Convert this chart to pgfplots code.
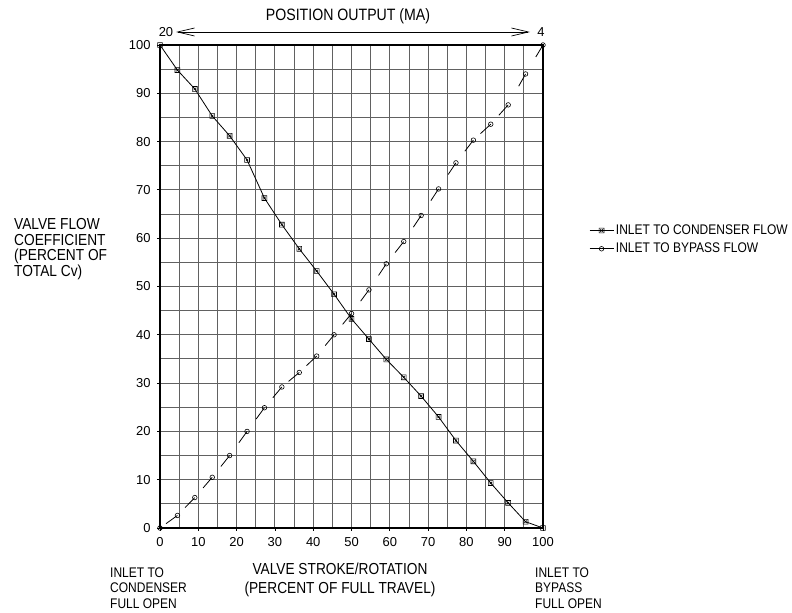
\documentclass[border=0pt]{standalone}
\usepackage{fontspec}
\setmainfont{Liberation Sans}[FakeStretch=0.86]
\newfontfamily\tickfont{Liberation Sans}
\usepackage{pgfplots}
\pgfplotsset{compat=1.18}
\usetikzlibrary{arrows.meta}
\pgfdeclareplotmark{sqx}{%
  \pgfpathrectangle{\pgfqpoint{-\pgfplotmarksize}{-\pgfplotmarksize}}{\pgfqpoint{2\pgfplotmarksize}{2\pgfplotmarksize}}%
  \pgfpathmoveto{\pgfqpoint{-0.5\pgfplotmarksize}{-0.5\pgfplotmarksize}}%
  \pgfpathlineto{\pgfqpoint{0.5\pgfplotmarksize}{0.5\pgfplotmarksize}}%
  \pgfpathmoveto{\pgfqpoint{-0.5\pgfplotmarksize}{0.5\pgfplotmarksize}}%
  \pgfpathlineto{\pgfqpoint{0.5\pgfplotmarksize}{-0.5\pgfplotmarksize}}%
  \pgfusepathqstroke
}
\pgfplotstableread{
x y
0 100
4.55 94.8
9.09 90.9
13.64 85.3
18.18 81.2
22.73 76.2
27.27 68.3
31.82 62.8
36.36 57.8
40.91 53.2
45.45 48.4
50 43.3
54.55 39.1
59.09 34.9
63.64 31.2
68.18 27.3
72.73 23.0
77.27 18.1
81.82 13.8
86.36 9.3
90.91 5.2
95.45 1.3
100 0
}\condenser
\pgfplotstableread{
x y
0 0
4.55 2.6
9.09 6.3
13.64 10.5
18.18 15.0
22.73 20.0
27.27 24.9
31.82 29.2
36.36 32.2
40.91 35.6
45.45 40.0
50 44.4
54.55 49.3
59.09 54.7
63.64 59.3
68.18 64.7
72.73 70.2
77.27 75.6
81.82 80.3
86.36 83.6
90.91 87.6
95.45 94.0
100 100
}\bypass
% same bypass points, as pairs (upper point first) so each segment starts at its marker
\pgfplotstableread{
x y
4.55 2.6
0 0
nan nan
9.09 6.3
4.55 2.6
nan nan
13.64 10.5
9.09 6.3
nan nan
18.18 15.0
13.64 10.5
nan nan
22.73 20.0
18.18 15.0
nan nan
27.27 24.9
22.73 20.0
nan nan
31.82 29.2
27.27 24.9
nan nan
36.36 32.2
31.82 29.2
nan nan
40.91 35.6
36.36 32.2
nan nan
45.45 40.0
40.91 35.6
nan nan
50 44.4
45.45 40.0
nan nan
54.55 49.3
50 44.4
nan nan
59.09 54.7
54.55 49.3
nan nan
63.64 59.3
59.09 54.7
nan nan
68.18 64.7
63.64 59.3
nan nan
72.73 70.2
68.18 64.7
nan nan
77.27 75.6
72.73 70.2
nan nan
81.82 80.3
77.27 75.6
nan nan
86.36 83.6
81.82 80.3
nan nan
90.91 87.6
86.36 83.6
nan nan
95.45 94.0
90.91 87.6
nan nan
100 100
95.45 94.0
}\bypasssegs
\begin{document}
\begin{tikzpicture}
\useasboundingbox (0bp,0bp) rectangle (792bp,613bp);
\begin{axis}[
  at={(160bp,85bp)}, anchor=south west,
  scale only axis, width=383bp, height=483bp,
  xmin=0, xmax=100, ymin=0, ymax=100,
  xtick={0,10,...,100}, ytick={0,10,...,100},
  minor xtick={5,15,...,95}, minor ytick={5,15,...,95},
  grid=both,
  grid style={black!62, line width=0.9bp},
  minor grid style={black!62, line width=0.9bp},
  axis line style={line width=1.4bp},
  tick align=outside, tick pos=left,
  major tick length=3bp, minor tick length=0pt,
  tick style={black, line width=0.8bp},
  /pgf/number format/assume math mode=true,
  ticklabel style={font=\tickfont\fontsize{13}{13}\selectfont},
  xticklabel style={yshift=-3bp},
  yticklabel style={xshift=-3bp},
  legend style={at={(axis description cs:1.120,0.632)}, anchor=north west,
    draw=none, fill=none, inner sep=0pt, row sep=3bp,
    font=\fontsize{14}{14}\selectfont},
  legend cell align=left,
  legend image code/.code={
    \draw[#1, solid] (0bp,0bp) -- (24bp,0bp);
    \draw[#1, solid, only marks] plot coordinates {(12bp,0bp)};
  },
  clip=false,
]
\addplot[black, line width=0.8bp, mark=sqx, mark size=2.4bp,
  mark options={solid, line width=0.6bp}] table[x=x,y=y] {\condenser};
\addlegendentry{INLET TO CONDENSER FLOW}
\addplot[black, line width=0.8bp, dash pattern=on 14bp off 300bp,
  unbounded coords=jump, forget plot] table[x=x,y=y] {\bypasssegs};
\addplot[black, only marks, mark=o, mark size=2.3bp,
  mark options={solid, line width=0.6bp},
  legend image code/.code={
    \draw[black, line width=0.8bp] (0bp,0bp) -- (24bp,0bp);
    \draw[black, line width=0.6bp] (12bp,0bp) circle (2.3bp);
  }] table[x=x,y=y] {\bypass};
\addlegendentry{INLET TO BYPASS FLOW}
\end{axis}
\node[font=\fontsize{16.5}{16.5}\selectfont] at (348bp,597bp) {POSITION OUTPUT (MA)};
\draw[line width=0.7bp, {Straight Barb[length=17bp,width=8bp]}-{Straight Barb[length=17bp,width=8bp]}] (176bp,581bp) -- (530bp,581bp);
\node[font=\tickfont\fontsize{13}{13}\selectfont] at (166bp,581bp) {20};
\node[font=\tickfont\fontsize{13}{13}\selectfont] at (541bp,581bp) {4};
\node[anchor=west, align=left, inner sep=0pt, font=\fontsize{16}{15.7}\selectfont] at (14bp,364bp) {VALVE FLOW\\COEFFICIENT\\(PERCENT OF\\TOTAL Cv)};
\node[align=center, inner sep=0pt, font=\fontsize{16}{19}\selectfont] at (340bp,33bp) {VALVE STROKE/ROTATION\\(PERCENT OF FULL TRAVEL)};
\node[anchor=west, align=left, inner sep=0pt, font=\fontsize{14}{15.5}\selectfont] at (110bp,25bp) {INLET TO\\CONDENSER\\FULL OPEN};
\node[anchor=west, align=left, inner sep=0pt, font=\fontsize{14}{15.5}\selectfont] at (535bp,25bp) {INLET TO\\BYPASS\\FULL OPEN};
\end{tikzpicture}
\end{document}
